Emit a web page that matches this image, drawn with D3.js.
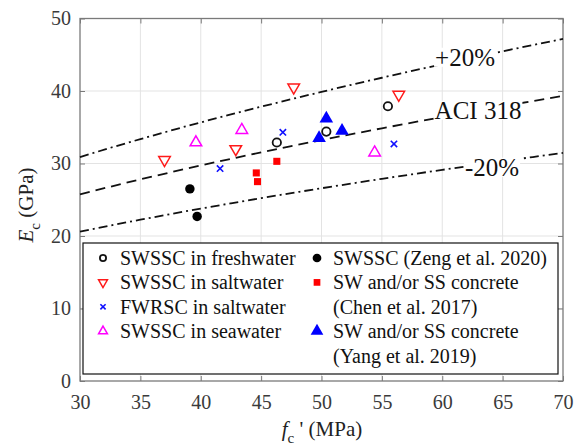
<!DOCTYPE html>
<html>
<head>
<meta charset="utf-8">
<script src="https://cdn.jsdelivr.net/npm/d3@7"></script>
<style>
  body { margin: 0; background: #fff; }
  svg text { font-family: "Liberation Serif", "DejaVu Serif", serif !important; }
</style>
</head>
<body>
<svg></svg>
<script>
// tick values
const xTicks = [30, 35, 40, 45, 50, 55, 60, 65, 70];
const yTicks = [0, 10, 20, 30, 40, 50];

// SWSSC in freshwater
const freshFc = [46.3, 50.4, 55.5];
const freshEc = [32.9, 34.4, 37.9];
// SWSSC in saltwater
const saltFc = [37.0, 42.9, 47.7, 56.4];
const saltEc = [30.5, 32.0, 40.5, 39.5];
// FWRSC in saltwater
const fwrFc = [41.6, 46.8, 56.0];
const fwrEc = [29.3, 34.3, 32.7];
// SWSSC in seawater
const seaFc = [39.6, 43.4, 54.4];
const seaEc = [32.9, 34.6, 31.5];
// Zeng et al. 2020
const zengFc = [39.1, 39.7];
const zengEc = [26.5, 22.7];
// Chen et al. 2017
const chenFc = [46.3, 44.6, 44.7];
const chenEc = [30.3, 28.7, 27.5];
// Yang et al. 2019
const yangFc = [50.4, 49.8, 51.7];
const yangEc = [36.2, 33.5, 34.5];

// ACI 318: Ec = 4.7 sqrt(fc), plus / minus 20%
const aciFc = [30, 32.5, 35, 37.5, 40, 42.5, 45, 47.5, 50, 52.5, 55, 57.5, 60, 62.5, 65, 67.5, 70];
const aciFactors = [1.2, 1.0, 0.8];
const aciLabels = ['+20%', 'ACI 318', '-20%'];

const width = 574;
const height = 448;
const margin = { left: 80, right: 11, top: 18.5, bottom: 67 };
const serif = '"Liberation Serif", "DejaVu Serif", serif';

let svg = d3.select('svg').attr('width', width).attr('height', height);

let x = d3.scaleLinear().domain([30, 70]).range([margin.left, width - margin.right]);
let y = d3.scaleLinear().domain([0, 50]).range([height - margin.bottom, margin.top]);

const x0 = x.range()[0], x1 = x.range()[1];
const y0 = y.range()[0], y1 = y.range()[1];

// grid
svg.append('g').selectAll('line').data(xTicks.slice(1, -1)).enter().append('line')
  .attr('x1', d => x(d)).attr('x2', d => x(d)).attr('y1', y1).attr('y2', y0)
  .attr('stroke', '#e3e3e3').attr('stroke-width', 1);
svg.append('g').selectAll('line').data(yTicks.slice(1, -1)).enter().append('line')
  .attr('x1', x0).attr('x2', x1).attr('y1', d => y(d)).attr('y2', d => y(d))
  .attr('stroke', '#e3e3e3').attr('stroke-width', 1);

// axes (ticks inside, MATLAB style)
let styleAxis = (g) => {
  g.attr('font-family', serif);
  g.select('.domain').remove();
  g.selectAll('line').attr('stroke', '#7a7a7a');
  g.selectAll('text').attr('fill', '#3a3a3a').style('font-size', '20px');
};
svg.append('g').attr('transform', `translate(0,${y0})`)
  .call(d3.axisBottom(x).tickValues(xTicks).tickSizeInner(-5).tickSizeOuter(0).tickPadding(14))
  .call(styleAxis);
svg.append('g').attr('transform', `translate(0,${y1})`)
  .call(d3.axisTop(x).tickValues(xTicks).tickSizeInner(-5).tickSizeOuter(0).tickFormat(''))
  .call(styleAxis);
svg.append('g').attr('transform', `translate(${x0},0)`)
  .call(d3.axisLeft(y).tickValues(yTicks).tickSizeInner(-5).tickSizeOuter(0).tickPadding(9))
  .call(styleAxis);
svg.append('g').attr('transform', `translate(${x1},0)`)
  .call(d3.axisRight(y).tickValues(yTicks).tickSizeInner(-5).tickSizeOuter(0).tickFormat(''))
  .call(styleAxis);

svg.append('rect').attr('x', x0).attr('y', y1).attr('width', x1 - x0).attr('height', y0 - y1)
  .attr('fill', 'none').attr('stroke', '#7a7a7a').attr('stroke-width', 1.3);

// ACI lines
let line = d3.line().curve(d3.curveMonotoneX);
const dashes = ['9,4,2,4', '10,6', '9,4,2,4'];
aciFactors.forEach((f, i) => {
  svg.append('path')
    .attr('d', line(aciFc.map(fc => [x(fc), y(4.7 * Math.sqrt(fc) * f)])))
    .attr('fill', 'none').attr('stroke', '#111').attr('stroke-width', 1.8)
    .attr('stroke-dasharray', dashes[i]);
});

// line labels with white background
const labelPos = [[465, 57], [478, 110], [492, 167]];
aciLabels.forEach((t, i) => {
  let g = svg.append('g');
  let txt = g.append('text').attr('x', labelPos[i][0]).attr('y', labelPos[i][1])
    .attr('text-anchor', 'middle').attr('dy', '0.35em').attr('font-family', serif)
    .style('font-size', '25px').attr('fill', '#111').text(t);
  let bb = txt.node().getBBox();
  g.insert('rect', 'text').attr('x', bb.x - 1).attr('y', bb.y + 4)
    .attr('width', bb.width + 2).attr('height', bb.height - 8).attr('fill', '#fff');
});

// markers
const triUp = d3.symbol().type(d3.symbolTriangle);
const circ = d3.symbol().type(d3.symbolCircle);
const sq = d3.symbol().type(d3.symbolSquare);
let xMark = (s) => `M${-s},${-s}L${s},${s}M${-s},${s}L${s},${-s}`;

let series = [
  { fc: freshFc, ec: freshEc, d: circ.size(55)(), rot: 0, fill: 'none', stroke: '#111', sw: 1.8 },
  { fc: saltFc, ec: saltEc, d: triUp.size(58)(), rot: 180, fill: 'none', stroke: '#ff1a1a', sw: 1.5 },
  { fc: fwrFc, ec: fwrEc, d: xMark(3.2), rot: 0, fill: 'none', stroke: '#1010ff', sw: 1.6 },
  { fc: seaFc, ec: seaEc, d: triUp.size(58)(), rot: 0, fill: 'none', stroke: '#ff00ff', sw: 1.5 },
  { fc: zengFc, ec: zengEc, d: circ.size(70)(), rot: 0, fill: '#000', stroke: 'none', sw: 0 },
  { fc: chenFc, ec: chenEc, d: sq.size(50)(), rot: 0, fill: '#f00', stroke: 'none', sw: 0 },
  { fc: yangFc, ec: yangEc, d: triUp.size(80)(), rot: 0, fill: '#0000ff', stroke: 'none', sw: 0 }
];

series.forEach(s => {
  svg.append('g').selectAll('path').data(s.fc).enter().append('path')
    .attr('d', s.d)
    .attr('transform', (d, i) => `translate(${x(d)},${y(s.ec[i])}) rotate(${s.rot})`)
    .attr('fill', s.fill).attr('stroke', s.stroke).attr('stroke-width', s.sw);
});

// legend
const legendLabels = [
  ['SWSSC in freshwater'],
  ['SWSSC in saltwater'],
  ['FWRSC in saltwater'],
  ['SWSSC in seawater'],
  ['SWSSC (Zeng et al. 2020)'],
  ['SW and/or SS concrete', '(Chen et al. 2017)'],
  ['SW and/or SS concrete', '(Yang et al. 2019)']
];
const legendMarks = [
  circ.size(30)(), triUp.size(34)(), xMark(2.6), triUp.size(34)(),
  circ.size(60)(), sq.size(45)(), triUp.size(70)()
];
let lg = svg.append('g');
lg.append('rect').attr('x', 83).attr('y', 243).attr('width', 475).attr('height', 131)
  .attr('fill', '#fff').attr('stroke', '#111').attr('stroke-width', 1.2);

const rowH = 24.4;
const rowY0 = 258;
let rows = [[0, 0], [0, 1], [0, 2], [0, 3], [1, 0], [1, 1], [1, 3]];
const colMark = [103, 317];
const colText = [120, 333];
rows.forEach((r, i) => {
  let cy = rowY0 + r[1] * rowH;
  lg.append('path').attr('d', legendMarks[i])
    .attr('transform', `translate(${colMark[r[0]]},${cy}) rotate(${series[i].rot})`)
    .attr('fill', series[i].fill).attr('stroke', series[i].stroke).attr('stroke-width', series[i].sw);
  legendLabels[i].forEach((t, j) => {
    lg.append('text').attr('x', colText[r[0]]).attr('y', cy + j * rowH).attr('dy', '0.35em')
      .attr('font-family', serif).style('font-size', '20px').attr('fill', '#111').text(t);
  });
});

// axis titles
let xl = svg.append('text').attr('x', 322).attr('y', 436).attr('text-anchor', 'middle')
  .attr('font-family', serif).style('font-size', '21px').attr('fill', '#222');
xl.append('tspan').style('font-style', 'italic').text('f');
xl.append('tspan').attr('dy', 7).style('font-size', '15px').text('c');
xl.append('tspan').attr('dy', -7).text(" ' (MPa)");

let yl = svg.append('text').attr('transform', 'translate(33,205) rotate(-90)')
  .attr('text-anchor', 'middle').attr('font-family', serif).style('font-size', '21px').attr('fill', '#222');
yl.append('tspan').style('font-style', 'italic').text('E');
yl.append('tspan').attr('dy', 7).style('font-size', '15px').text('c');
yl.append('tspan').attr('dy', -7).text(' (GPa)');
</script>
</body>
</html>
